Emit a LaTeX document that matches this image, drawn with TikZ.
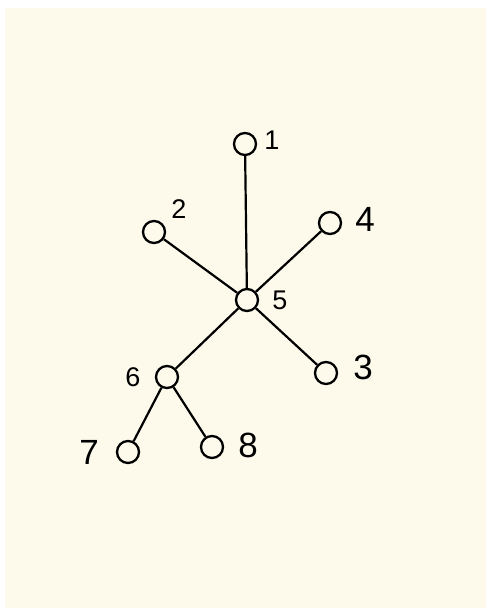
\documentclass[tikz,border=0pt]{standalone}
\usepackage{fontspec}
\setmainfont{Liberation Sans}
\definecolor{cream}{HTML}{FDFAEC}
\begin{document}
\begin{tikzpicture}[x=1pt,y=-1pt,
  vtx/.style={circle,draw=black,line width=2.3pt,minimum size=22pt,inner sep=0pt},
  edge/.style={line width=2.2pt,black},
  lblbig/.style={inner sep=0pt,font=\fontsize{35}{35}\selectfont},
  lblsmall/.style={inner sep=0pt,font=\fontsize{27}{27}\selectfont}]
\useasboundingbox (0,0) rectangle (486,609);
\fill[white] (0,0) rectangle (486,609);
\fill[cream] (5,8) rectangle (486,608);
\node[vtx] (n1) at (245,144) {};
\node[vtx] (n2) at (154,232) {};
\node[vtx] (n4) at (330,223) {};
\node[vtx] (n5) at (247,300) {};
\node[vtx] (n6) at (167,377) {};
\node[vtx] (n3) at (326,373) {};
\node[vtx] (n7) at (128,452) {};
\node[vtx] (n8) at (212,447) {};
\draw[edge] (n1) -- (n5);
\draw[edge] (n2) -- (n5);
\draw[edge] (n4) -- (n5);
\draw[edge] (n5) -- (n6);
\draw[edge] (n5) -- (n3);
\draw[edge] (n6) -- (n7);
\draw[edge] (n6) -- (n8);
\node[lblsmall] (l1) at (272,140) {1};
\node[lblsmall] (l2) at (179,209) {2};
\node[lblbig] (l4) at (365,219) {4};
\node[lblsmall] (l5) at (280,300) {5};
\node[lblsmall] (l6) at (133,377) {6};
\node[lblbig] (l3) at (363,367) {3};
\node[lblbig] (l7) at (89,452) {7};
\node[lblbig] (l8) at (248,445) {8};
\end{tikzpicture}
\end{document}
